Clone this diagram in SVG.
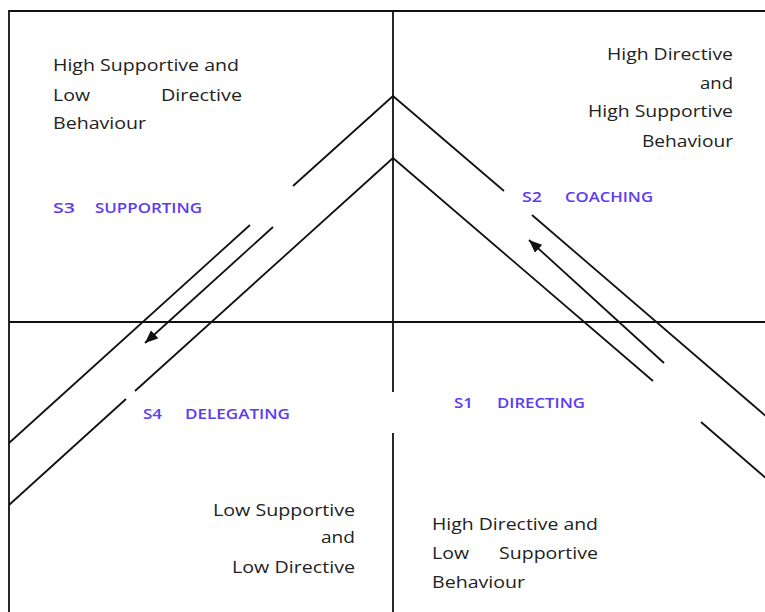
<svg xmlns="http://www.w3.org/2000/svg" width="765" height="612" viewBox="0 0 765 612">
  <style>
    .ln { fill: none; stroke: #111; stroke-width: 1.8; stroke-linecap: butt; }
    .txt { font-family: "Open Sans", "Liberation Sans", sans-serif; font-size: 17px; fill: #222; }
    .lbl { font-family: "Open Sans", "Liberation Sans", sans-serif; font-size: 14px; fill: #5b3cf2; font-weight: 600; }
  </style>
  <defs>
    <marker id="headL" viewBox="0 0 12 10" refX="12" refY="5" markerWidth="13" markerHeight="11" markerUnits="userSpaceOnUse" orient="auto">
      <path d="M0,0 L12,5 L0,10 Z" fill="#111"/>
    </marker>
  </defs>

  <rect width="765" height="612" fill="#fff"/>

  <!-- frame and axes -->
  <g id="frame">
    <path class="ln" d="M9,612 V11 H765"/>
    <path class="ln" d="M9,322 H765"/>
    <path class="ln" d="M393,11 V392 M393,433 V612"/>
  </g>

  <!-- chevron bands and direction arrows -->
  <g id="connectors">
    <!-- outer chevron -->
    <path class="ln" d="M293,186 L393,96 L504,191"/>
    <path class="ln" d="M250,225 L9,443"/>
    <path class="ln" d="M532,215 L768,418"/>
    <!-- inner chevron -->
    <path class="ln" d="M135,391 L393,158 L653,381"/>
    <path class="ln" d="M126,399 L9,505"/>
    <path class="ln" d="M701,422 L768,480"/>
    <!-- arrows -->
    <path class="ln" d="M273,227 L145,343" marker-end="url(#headL)"/>
    <path class="ln" d="M664,363 L529,240" marker-end="url(#headL)"/>
  </g>

  <g id="q-s3">
    <text class="txt" x="53" y="71" textLength="186" lengthAdjust="spacingAndGlyphs">High Supportive and</text>
    <text class="txt" x="53" y="101" textLength="37" lengthAdjust="spacingAndGlyphs">Low</text>
    <text class="txt" x="161" y="101" textLength="81" lengthAdjust="spacingAndGlyphs">Directive</text>
    <text class="txt" x="53" y="129" textLength="93" lengthAdjust="spacingAndGlyphs">Behaviour</text>
    <text class="lbl" x="53" y="213" textLength="22" lengthAdjust="spacingAndGlyphs">S3</text>
    <text class="lbl" x="95" y="213" textLength="107" lengthAdjust="spacingAndGlyphs">SUPPORTING</text>
  </g>

  <g id="q-s2">
    <text class="txt" x="607" y="60" textLength="126" lengthAdjust="spacingAndGlyphs">High Directive</text>
    <text class="txt" x="700" y="89" textLength="33" lengthAdjust="spacingAndGlyphs">and</text>
    <text class="txt" x="588" y="117" textLength="145" lengthAdjust="spacingAndGlyphs">High Supportive</text>
    <text class="txt" x="642" y="147" textLength="91" lengthAdjust="spacingAndGlyphs">Behaviour</text>
    <text class="lbl" x="522" y="202" textLength="20" lengthAdjust="spacingAndGlyphs">S2</text>
    <text class="lbl" x="565" y="202" textLength="88" lengthAdjust="spacingAndGlyphs">COACHING</text>
  </g>

  <g id="q-s4">
    <text class="lbl" x="143" y="419" textLength="19" lengthAdjust="spacingAndGlyphs">S4</text>
    <text class="lbl" x="185" y="419" textLength="105" lengthAdjust="spacingAndGlyphs">DELEGATING</text>
    <text class="txt" x="213" y="516" textLength="142" lengthAdjust="spacingAndGlyphs">Low Supportive</text>
    <text class="txt" x="321" y="543" textLength="34" lengthAdjust="spacingAndGlyphs">and</text>
    <text class="txt" x="232" y="573" textLength="123" lengthAdjust="spacingAndGlyphs">Low Directive</text>
  </g>

  <g id="q-s1">
    <text class="lbl" x="454" y="408" textLength="19" lengthAdjust="spacingAndGlyphs">S1</text>
    <text class="lbl" x="497" y="408" textLength="88" lengthAdjust="spacingAndGlyphs">DIRECTING</text>
    <text class="txt" x="432" y="530" textLength="166" lengthAdjust="spacingAndGlyphs">High Directive and</text>
    <text class="txt" x="432" y="559" textLength="37" lengthAdjust="spacingAndGlyphs">Low</text>
    <text class="txt" x="499" y="559" textLength="99" lengthAdjust="spacingAndGlyphs">Supportive</text>
    <text class="txt" x="432" y="588" textLength="93" lengthAdjust="spacingAndGlyphs">Behaviour</text>
  </g>
</svg>
